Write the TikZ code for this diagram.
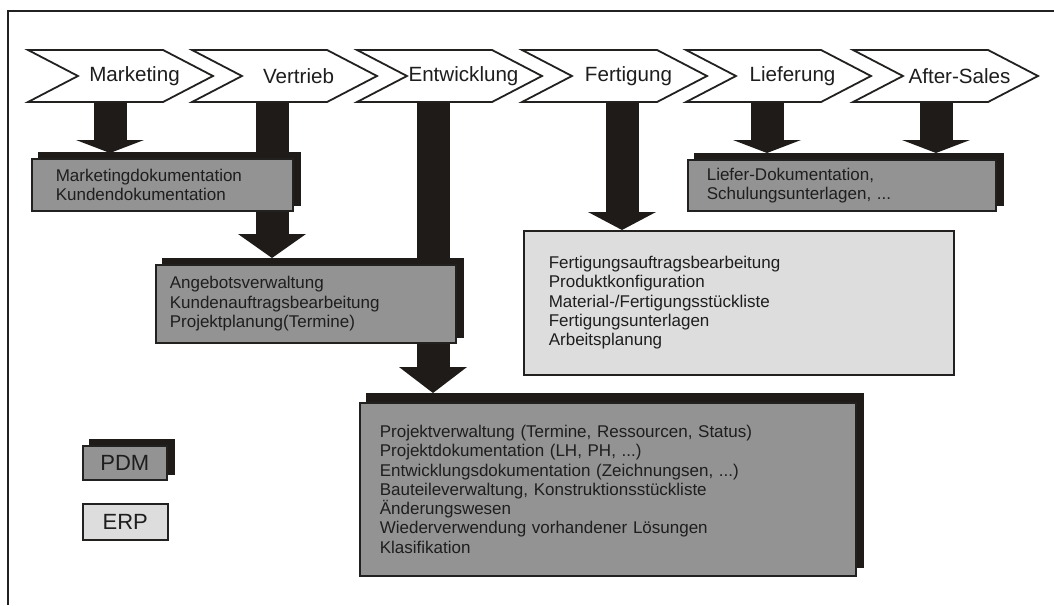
\documentclass[tikz,border=0pt]{standalone}
\usepackage{fontspec}
\setmainfont{Liberation Sans}
\usetikzlibrary{shapes.symbols, arrows.meta, shadows, backgrounds}
\definecolor{colLine}  {RGB}{ 35,  33,  32}
\definecolor{colShadow}{RGB}{ 30,  27,  25}
\definecolor{colPdm}   {RGB}{147, 147, 147}
\definecolor{colErp}   {RGB}{221, 221, 221}
\definecolor{colText}  {RGB}{ 30,  30,  30}
\newcommand{\fsChev}{\fontsize{20.6}{24}\selectfont}
\newcommand{\fsBox}{\fontsize{17}{19.3}\selectfont}
\newcommand{\fsKey}{\fontsize{22}{26}\selectfont}
\tikzset{
  chev/.style={
    signal, signal from=west, signal to=east, signal pointer angle=55,
    draw=colLine, line width=1.8pt, fill=white,
    minimum width=185pt, minimum height=52pt, inner sep=0pt,
    label={[font=\fsChev, text=colText, xshift=14pt]center:#1}
  },
  pdmbox/.style={
    rectangle, draw=colLine, line width=1.6pt, fill=colPdm, text=colText,
    font=\fsBox, align=left, anchor=north west, inner ysep=0pt,
    copy shadow={shadow xshift=7pt, shadow yshift=#1,
                 fill=colShadow, draw=colShadow}
  },
  pdmbox/.default=6pt,
  erpbox/.style={
    rectangle, draw=colLine, line width=1.6pt, fill=colErp, text=colText,
    font=\fsBox, align=left, anchor=north west, inner ysep=0pt
  },
  blockarrow/.style={
    draw=colShadow, line width=33pt,
    -{Triangle[width=68pt, length=#1, line width=0pt]}
  },
}
\begin{document}
\begin{tikzpicture}[x=1pt, y=-1pt]
\useasboundingbox (0,0) rectangle (1054,605);

% frame
\draw[colLine, line width=2pt] (8,605) -- (8,11) -- (1054,11);

% process chain
\node[chev=Marketing]   (mkt) at (120.5,76) {};
\node[chev=Vertrieb]    (vtr) at (284.5,76) {};
\node[chev=Entwicklung] (ent) at (449.5,76) {};
\node[chev=Fertigung]   (fer) at (614.5,76) {};
\node[chev=Lieferung]   (lie) at (778.5,76) {};
\node[chev=After-Sales] (aft) at (945.5,76) {};

% PDM / ERP functions
\node[pdmbox, text width=213pt, inner xsep=24pt, minimum height=52pt]
  (mktdoc) at (31,158) {Marketingdokumentation\\Kundendokumentation};

\node[pdmbox, text width=272pt, inner xsep=14pt, minimum height=78pt]
  (sales) at (155,264)
  {Angebotsverwaltung\\Kundenauftragsbearbeitung\\Projektplanung(Termine)};

\node[pdmbox=9pt, text width=456pt, inner xsep=20pt, minimum height=173pt]
  (devdoc) at (359,402)
  {Projektverwaltung (Termine, Ressourcen, Status)\\
   Projektdokumentation (LH, PH, ...)\\
   Entwicklungsdokumentation (Zeichnungsen, ...)\\
   Bauteileverwaltung, Konstruktionsstückliste\\
   Änderungswesen\\
   Wiederverwendung vorhandener Lösungen\\
   Klasifikation};

\node[erpbox, text width=380pt, inner xsep=25pt, minimum height=144pt]
  (prod) at (523,230)
  {Fertigungsauftragsbearbeitung\\
   Produktkonfiguration\\
   Material-/Fertigungsstückliste\\
   Fertigungsunterlagen\\
   Arbeitsplanung};

\node[pdmbox, text width=270pt, inner xsep=19pt, minimum height=51pt]
  (deliv) at (687,159) {Liefer-Dokumentation,\\Schulungsunterlagen, ...};

% legend
\node[pdmbox, font=\fsKey, align=center, inner xsep=0pt,
      minimum width=84pt, minimum height=34pt] (keypdm) at (82,445) {PDM};
\node[erpbox, font=\fsKey, align=center, inner xsep=0pt,
      minimum width=85pt, minimum height=36pt] (keyerp) at (82,503) {ERP};

% block arrows
\begin{scope}[on background layer]
  \draw[blockarrow=13pt] ([xshift=-10.5pt]mkt.south)
    -- ([xshift=-10.5pt, yshift=5pt]mkt.south |- mktdoc.north);
  \draw[blockarrow=24pt] ([xshift=-12.5pt]vtr.south)
    -- ([xshift=-12.5pt, yshift=6pt]vtr.south |- sales.north);
  \draw[blockarrow=26pt] ([xshift=-16.5pt]ent.south)
    -- ([xshift=-16.5pt, yshift=9pt]ent.south |- devdoc.north);
  \draw[blockarrow=18pt] ([xshift=7.5pt]fer.south)
    -- ([xshift=7.5pt]fer.south |- prod.north);
  \draw[blockarrow=13pt] ([xshift=-11.5pt]lie.south)
    -- ([xshift=-11.5pt, yshift=6pt]lie.south |- deliv.north);
  \draw[blockarrow=13pt] ([xshift=-9.5pt]aft.south)
    -- ([xshift=-9.5pt, yshift=6pt]aft.south |- deliv.north);
\end{scope}

\end{tikzpicture}
\end{document}
